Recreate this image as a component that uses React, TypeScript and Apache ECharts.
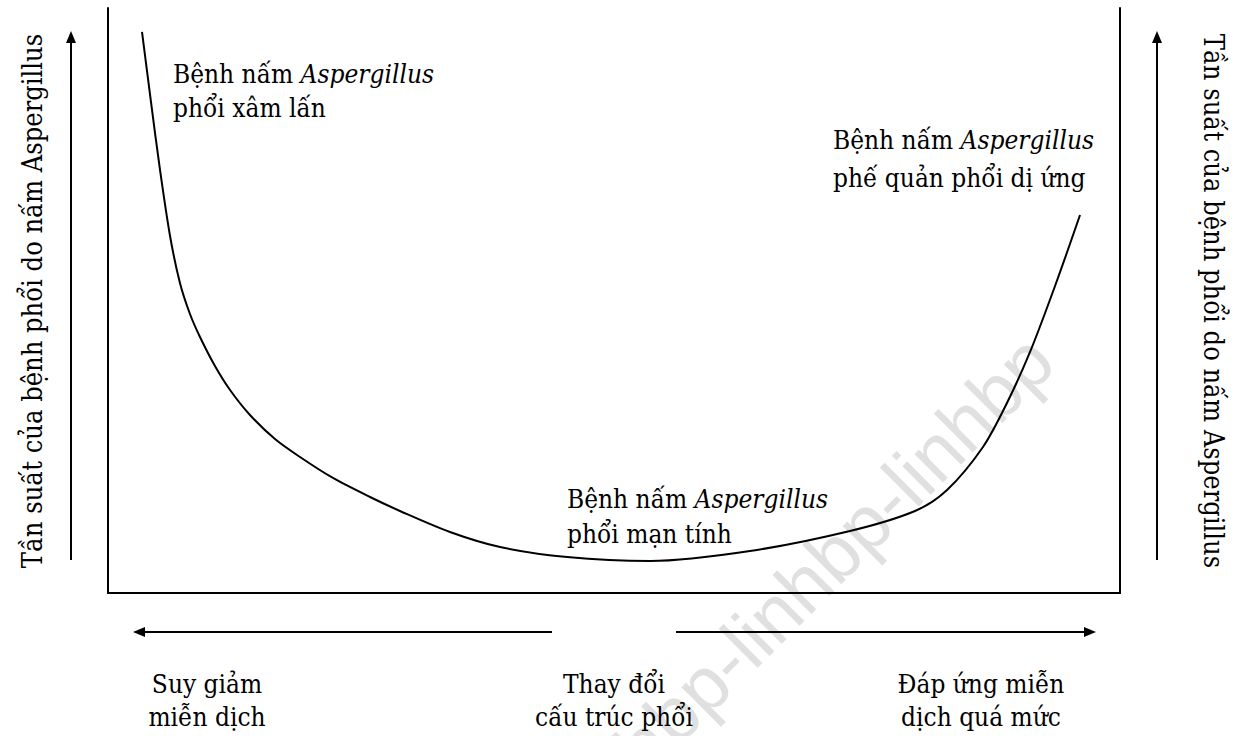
import React, { useEffect, useRef } from "react";
import * as echarts from "echarts";

// Curve (x: 0–100 along the horizontal axis, y: 0–100 frequency)
const curveX = [3.36, 4.25, 5.14, 6.13, 7.11, 8.10, 9.09, 10.57, 12.06, 14.03, 16.50, 18.97, 22.23, 25.89, 28.85, 33.79, 38.74, 45.36, 53.56, 63.44, 73.32, 79.74, 82.91, 86.46, 88.83, 91.11, 93.58, 96.05];
const curveY = [95.90, 83.93, 72.31, 61.03, 52.99, 47.69, 43.76, 38.80, 34.70, 30.43, 26.32, 23.25, 19.66, 16.41, 14.02, 10.43, 7.86, 6.15, 5.47, 7.18, 10.60, 14.02, 17.61, 24.96, 32.48, 41.20, 52.48, 64.62];

const axisTitle = "Tần suất của bệnh phổi do nấm Aspergillus";
const leftBottomLabel = ["Suy giảm", "miễn dịch"];
const midBottomLabel = ["Thay đổi", "cấu trúc phổi"];
const rightBottomLabel = ["Đáp ứng miễn", "dịch quá mức"];
const diseaseLine2 = ["phổi xâm lấn", "phế quản phổi dị ứng", "phổi mạn tính"];
const watermark = "linhbp-linhbp-linhbp";

const FAM = "DejaVu Serif Condensed, DejaVu Serif";
const FS = 26;

function diseaseText(x: number, y: number, line2: string, lh: number) {
  return {
    type: "text",
    x,
    y,
    style: {
      text: `{a|Bệnh nấm }{i|Aspergillus}\n{a|${line2}}`,
      fill: "#000",
      fontFamily: FAM,
      fontSize: FS,
      rich: {
        a: { fontFamily: FAM, fontSize: FS, lineHeight: lh, fill: "#000" },
        i: { fontFamily: FAM, fontSize: FS, fontStyle: "italic", lineHeight: lh, fill: "#000" },
      },
    },
  };
}

function centerText(cx: number, y: number, lines: string[], lh: number) {
  return {
    type: "text",
    x: cx,
    y,
    style: {
      text: lines.join("\n"),
      fill: "#000",
      fontFamily: FAM,
      fontSize: FS,
      lineHeight: lh,
      align: "center",
      verticalAlign: "top",
    },
  };
}

export default function App() {
  const ref = useRef<HTMLDivElement>(null);
  useEffect(() => {
    if (!ref.current) return;
    const chart = echarts.init(ref.current, null, { renderer: "svg" });
    const data = curveX.map((x, i) => [x, curveY[i]]);
    const lineStyle = { stroke: "#000", lineWidth: 2 };
    const head = { fill: "#000" };
    const axisCommon = {
      type: "value",
      min: 0,
      max: 100,
      axisTick: { show: false },
      axisLabel: { show: false },
      splitLine: { show: false },
    };
    chart.setOption({
      animation: false,
      backgroundColor: "#fff",
      grid: { left: 108, right: 121, top: 8, bottom: 143 },
      xAxis: {
        ...axisCommon,
        axisLine: { show: true, lineStyle: { color: "#000", width: 2 } },
      },
      yAxis: [
        {
          ...axisCommon,
          position: "left",
          axisLine: { show: true, onZero: false, lineStyle: { color: "#000", width: 2 } },
        },
        {
          ...axisCommon,
          position: "right",
          axisLine: { show: true, onZero: false, lineStyle: { color: "#000", width: 2 } },
        },
      ],
      series: [
        {
          type: "line",
          data,
          smooth: 0.3,
          symbol: "none",
          lineStyle: { color: "#000", width: 2 },
          z: 3,
        },
      ],
      graphic: [
        {
          type: "text",
          x: 1040,
          y: 348,
          rotation: Math.PI / 4,
          z: -10,
          silent: true,
          style: {
            text: watermark,
            fill: "rgb(224,224,224)",
            fontFamily: "Liberation Sans",
            fontSize: 76,
            align: "right",
            verticalAlign: "middle",
          },
        },
        { type: "line", shape: { x1: 71, y1: 560, x2: 71, y2: 40 }, style: lineStyle },
        { type: "polygon", shape: { points: [[71, 31], [66, 43], [76, 43]] }, style: head },
        { type: "line", shape: { x1: 1157, y1: 560, x2: 1157, y2: 40 }, style: lineStyle },
        { type: "polygon", shape: { points: [[1157, 31], [1152, 43], [1162, 43]] }, style: head },
        { type: "line", shape: { x1: 552, y1: 632, x2: 142, y2: 632 }, style: lineStyle },
        { type: "polygon", shape: { points: [[133, 632], [145, 627], [145, 637]] }, style: head },
        { type: "line", shape: { x1: 676, y1: 632, x2: 1086, y2: 632 }, style: lineStyle },
        { type: "polygon", shape: { points: [[1096, 632], [1084, 627], [1084, 637]] }, style: head },
        {
          type: "text",
          x: 32,
          y: 301,
          rotation: Math.PI / 2,
          style: { text: axisTitle, fill: "#000", fontFamily: FAM, fontSize: 27, align: "center", verticalAlign: "middle" },
        },
        {
          type: "text",
          x: 1213,
          y: 301,
          rotation: -Math.PI / 2,
          style: { text: axisTitle, fill: "#000", fontFamily: FAM, fontSize: 27, align: "center", verticalAlign: "middle" },
        },
        diseaseText(173, 57, diseaseLine2[0], 34),
        diseaseText(833, 121, diseaseLine2[1], 38),
        diseaseText(567, 481, diseaseLine2[2], 35),
        centerText(207, 667, leftBottomLabel, 33),
        centerText(614, 667, midBottomLabel, 33),
        centerText(981, 667, rightBottomLabel, 33),
      ],
    });
    return () => chart.dispose();
  }, []);
  return (
    <div
      ref={ref}
      style={{ position: "fixed", left: 0, top: 0, width: 1241, height: 736, background: "#fff" }}
    />
  );
}
